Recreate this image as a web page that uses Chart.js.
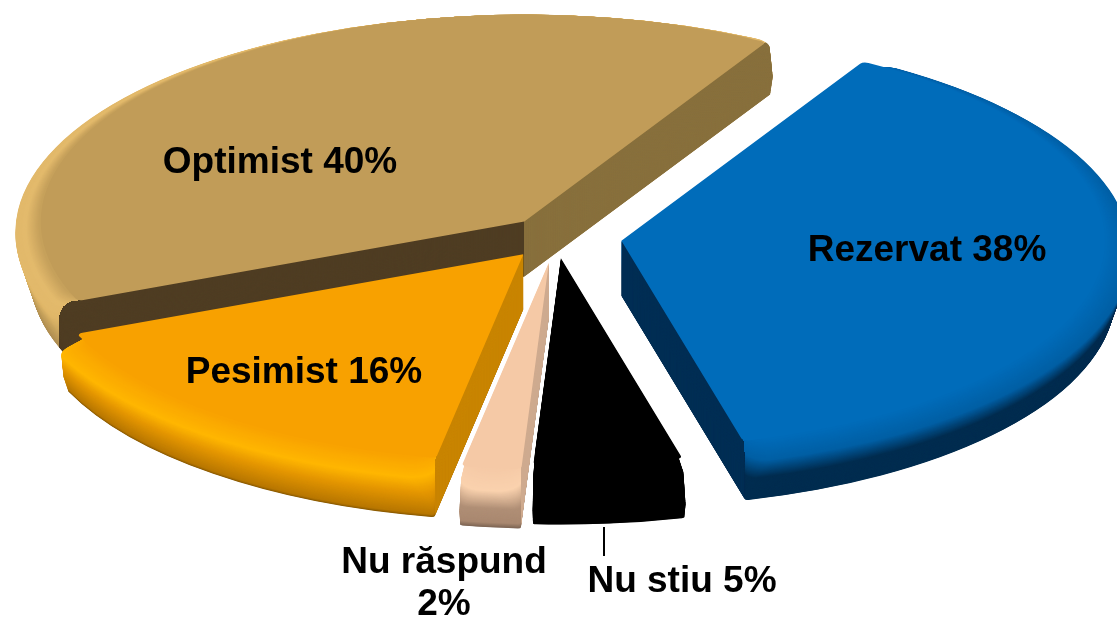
<!DOCTYPE html>
<html><head><meta charset="utf-8">
<style>html,body{margin:0;padding:0;background:#fff;overflow:hidden}canvas{display:block}</style>
<script src="https://cdn.jsdelivr.net/npm/chart.js@4"></script></head>
<body><canvas id="c" width="1117" height="618"></canvas>
<script>
const categories = ["Rezervat","Nu stiu","Nu răspund","Pesimist","Optimist"];
const values = [38,5,2,16,40];
const topColors = ["#006CBA","#000000","#F5C9A6","#F8A100","#C19C58"];
const drawOrder = [4,0,3,2,1];
const explode = [66,50,60,52,48];
const sideRamps = [
  [[0,"#006CBA"],[.2,"#005FA4"],[.55,"#002D50"],[1,"#002D50"]],
  [[0,"#000000"],[1,"#000000"]],
  [[0,"#F5C9A6"],[.22,"#FAD2AE"],[.6,"#B08F76"],[.9,"#A98870"],[1,"#7d6554"]],
  [[0,"#F8A100"],[.2,"#FFB600"],[.5,"#E59700"],[.95,"#B87700"],[1,"#8a5a00"]],
  [[0,"#C19C58"],[.12,"#E3BA6C"],[.32,"#E0B769"],[.6,"#C6A25D"],[1,"#AE8D52"]]
];
const faceStart = ["#002F55","#000000","#CFAB90","#C98500","#4F3D23"];
const faceEnd   = ["#002F55","#000000","#CFAB90","#C98500","#88703D"];
const reachStart = [.96,.96,.955,.955,.99];
const reachEnd   = [.96,.96,.955,.955,.985];
const labelLines = [["Rezervat 38%"],["Nu stiu 5%"],["Nu răspund","2%"],["Pesimist 16%"],["Optimist 40%"]];
const labelAt = [[927,251],[682,582],[444,563],[304,373],[280,163]];
const C = {x:556,y:237,rx:509,q:.428,R:250,flat:.95,bevel:11,depth:55,base:.97};

function hex(c){return [1,3,5].map(i=>parseInt(c.substr(i,2),16));}
function ramp(r,t){
  for(let i=1;i<r.length;i++){ if(t<=r[i][0]){
    const a=r[i-1],b=r[i],u=(t-a[0])/((b[0]-a[0])||1),A=hex(a[1]),B=hex(b[1]);
    return `rgb(${A.map((v,j)=>Math.round(v+(B[j]-v)*u)).join(",")})`;}}
  return r[r.length-1][1];
}
const pie3d = {
  id:"pie3d",
  beforeDatasetsDraw(chart){
    const ctx=chart.ctx, arcs=chart.getDatasetMeta(0).data, S=C.rx/C.R;
    const opt=(bg,rd)=>({backgroundColor:bg,borderColor:bg,borderWidth:0,borderAlign:"center",borderJoinStyle:"round",
      borderRadius:{outerStart:rd,outerEnd:rd,innerStart:0,innerEnd:0},offset:0,spacing:0,circular:true});
    drawOrder.forEach(i=>{
      const a=arcs[i], mid=(a.startAngle+a.endAngle)/2, R=a.outerRadius;
      const ox=C.x+Math.cos(mid)*explode[i], oy=C.y+Math.sin(mid)*explode[i]*C.q;
      const paint=(k,f,bg)=>{
        const rd=k===0?3:Math.max(1.5,16*(1-k/(C.depth*.8)));
        ctx.save();
        ctx.translate(ox,oy+k); ctx.scale(S,S*C.q); ctx.translate(-a.x,-a.y);
        a.outerRadius=R*f; a.options=opt(bg,rd); a.draw(ctx);
        a.outerRadius=R; ctx.restore();
      };
      const fAt=k=>k>=C.bevel?1-(1-C.base)*(k-C.bevel)/(C.depth-C.bevel):C.flat+(1-C.flat)*k/C.bevel;
      for(let k=C.depth;k>=1;k-=.5) paint(k,fAt(k),ramp(sideRamps[i],k/C.depth));
      [[a.startAngle,faceStart[i],Math.cos(a.startAngle)<0,reachStart[i]],[a.endAngle,faceEnd[i],Math.cos(a.endAngle)>0,reachEnd[i]]].forEach(([ang,col,show,reach])=>{
        if(!show) return;
        const fx=ox+Math.cos(ang)*C.rx*C.flat, fy=oy+Math.sin(ang)*C.rx*C.flat*C.q;
        const rx2=ox+Math.cos(ang)*C.rx*reach;
        ctx.save(); ctx.beginPath();
        ctx.moveTo(ox,oy); ctx.lineTo(fx,fy);
        ctx.quadraticCurveTo(rx2,fy,rx2,fy+24);
        ctx.lineTo(rx2,fy+C.depth+4); ctx.lineTo(ox,oy+C.depth+4); ctx.closePath(); ctx.clip();
        for(let k=C.depth;k>=0;k-=.5) paint(k,fAt(k),col);
        ctx.restore();
      });
      paint(0,C.flat,topColors[i]);
    });
    return false;
  },
  afterDraw(chart){
    const ctx=chart.ctx;
    ctx.save();
    ctx.strokeStyle="#000"; ctx.lineWidth=2;
    ctx.beginPath(); ctx.moveTo(604,527); ctx.lineTo(604,556); ctx.stroke();
    ctx.fillStyle="#000"; ctx.font='bold 37px "Liberation Sans"'; ctx.textAlign="center"; ctx.textBaseline="middle";
    labelLines.forEach((ls,i)=>ls.forEach((t,j)=>ctx.fillText(t,labelAt[i][0],labelAt[i][1]+j*42)));
    ctx.restore();
  }
};
new Chart(document.getElementById("c"),{
  type:"pie",
  data:{labels:categories,datasets:[{data:values,backgroundColor:topColors,borderWidth:0}]},
  options:{responsive:false,animation:false,rotation:30,radius:C.R,
    layout:{padding:0},
    plugins:{legend:{display:false},tooltip:{enabled:false}}},
  plugins:[pie3d]
});
</script></body></html>
